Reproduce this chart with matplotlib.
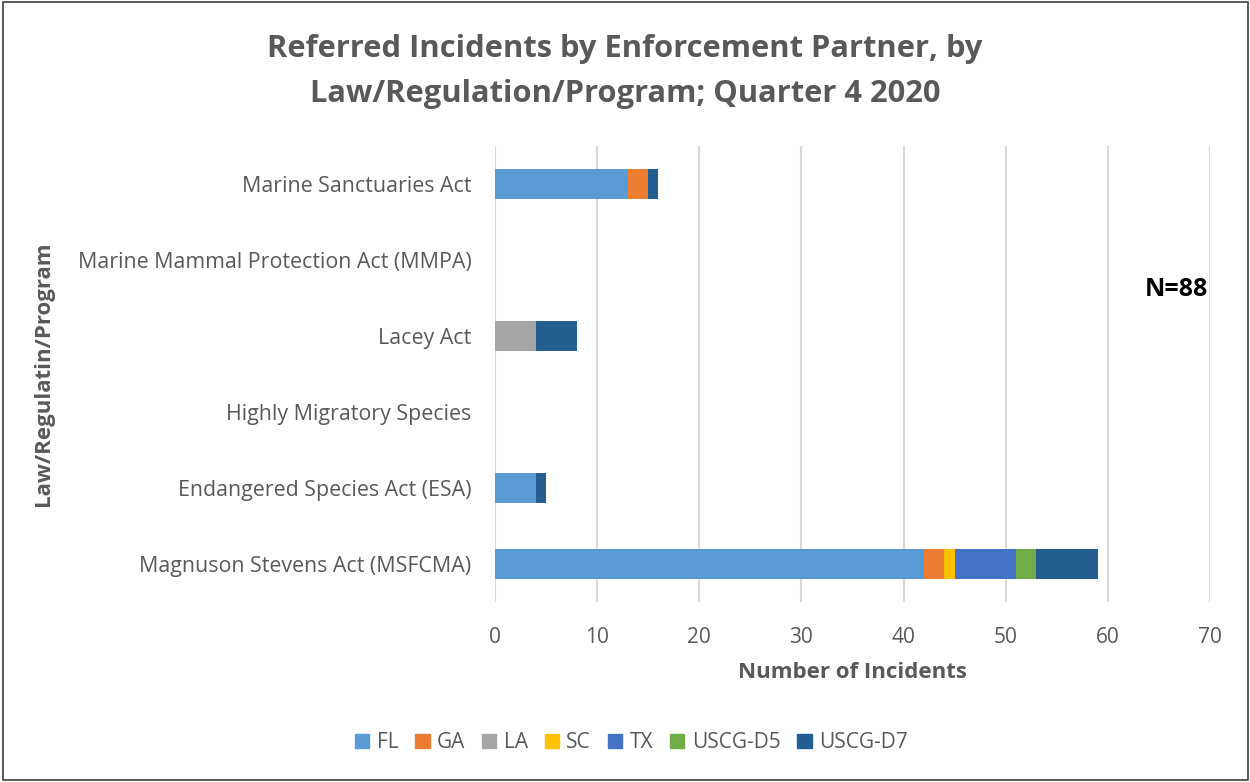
import matplotlib.pyplot as plt
import matplotlib.patches as mpatches
import numpy as np

plt.rcParams['font.family'] = ['Open Sans', 'DejaVu Sans']

categories = ["Magnuson Stevens Act (MSFCMA)", "Endangered Species Act (ESA)",
              "Highly Migratory Species", "Lacey Act",
              "Marine Mammal Protection Act (MMPA)", "Marine Sanctuaries Act"]
partners = ["FL", "GA", "LA", "SC", "TX", "USCG-D5", "USCG-D7"]
colors = ["#5b9bd5", "#ed7d31", "#a5a5a5", "#ffc000", "#4472c4", "#70ad47", "#255e91"]

# values per partner, in category order (bottom to top)
FL = [42, 4, 0, 0, 0, 13]
GA = [2, 0, 0, 0, 0, 2]
LA = [0, 0, 0, 4, 0, 0]
SC = [1, 0, 0, 0, 0, 0]
TX = [6, 0, 0, 0, 0, 0]
D5 = [2, 0, 0, 0, 0, 0]
D7 = [6, 1, 0, 4, 0, 1]
series = [FL, GA, LA, SC, TX, D5, D7]

fig = plt.figure(figsize=(12.5, 7.82), dpi=100)
ax = fig.add_axes([0.396, 0.230, 0.572, 0.583])

y = np.arange(len(categories))
left = np.zeros(len(categories))
for name, vals, c in zip(partners, series, colors):
    vals = np.array(vals, dtype=float)
    ax.barh(y, vals, left=left, height=0.4, color=c, label=name, zorder=3)
    left += vals

ax.set_xlim(0, 70)
ax.set_ylim(-0.5, len(categories) - 0.5)
ax.set_xticks(range(0, 71, 10))
ax.set_yticks(y)
ax.set_yticklabels(categories)
ax.grid(axis='x', color='#d9d9d9', linewidth=1.5, zorder=0)
for s in ax.spines.values():
    s.set_visible(False)
ax.tick_params(length=0, labelsize=15, labelcolor='#595959')
ax.tick_params(axis='y', labelsize=15.4, pad=17)
ax.tick_params(axis='x', pad=18)

ax.set_xlabel("Number of Incidents", fontsize=16, fontweight='bold', color='#595959', labelpad=10)
ax.set_ylabel("Law/Regulatin/Program", fontsize=16, fontweight='bold', color='#595959')
ax.yaxis.set_label_coords(-0.617, 0.5)

fig.text(0.5, 0.909, "Referred Incidents by Enforcement Partner, by\nLaw/Regulation/Program; Quarter 4 2020",
         ha='center', va='center', fontsize=22.2, fontweight='bold', color='#595959', linespacing=1.65)
fig.text(0.941, 0.63, "N=88", ha='center', va='center', fontsize=18, fontweight='bold', color='black')

handles = [mpatches.Patch(color=c, label=p) for p, c in zip(partners, colors)]
fig.legend(handles=handles, loc='center', bbox_to_anchor=(0.505, 0.05), ncol=7, frameon=False,
           fontsize=15, labelcolor='#595959', handlelength=0.7, handleheight=0.7,
           handletextpad=0.35, columnspacing=0.8)

fig.add_artist(mpatches.Rectangle((0.002, 0.003), 0.996, 0.994, transform=fig.transFigure,
                                  fill=False, edgecolor='#404040', linewidth=1.2))

fig.savefig("out.png")
